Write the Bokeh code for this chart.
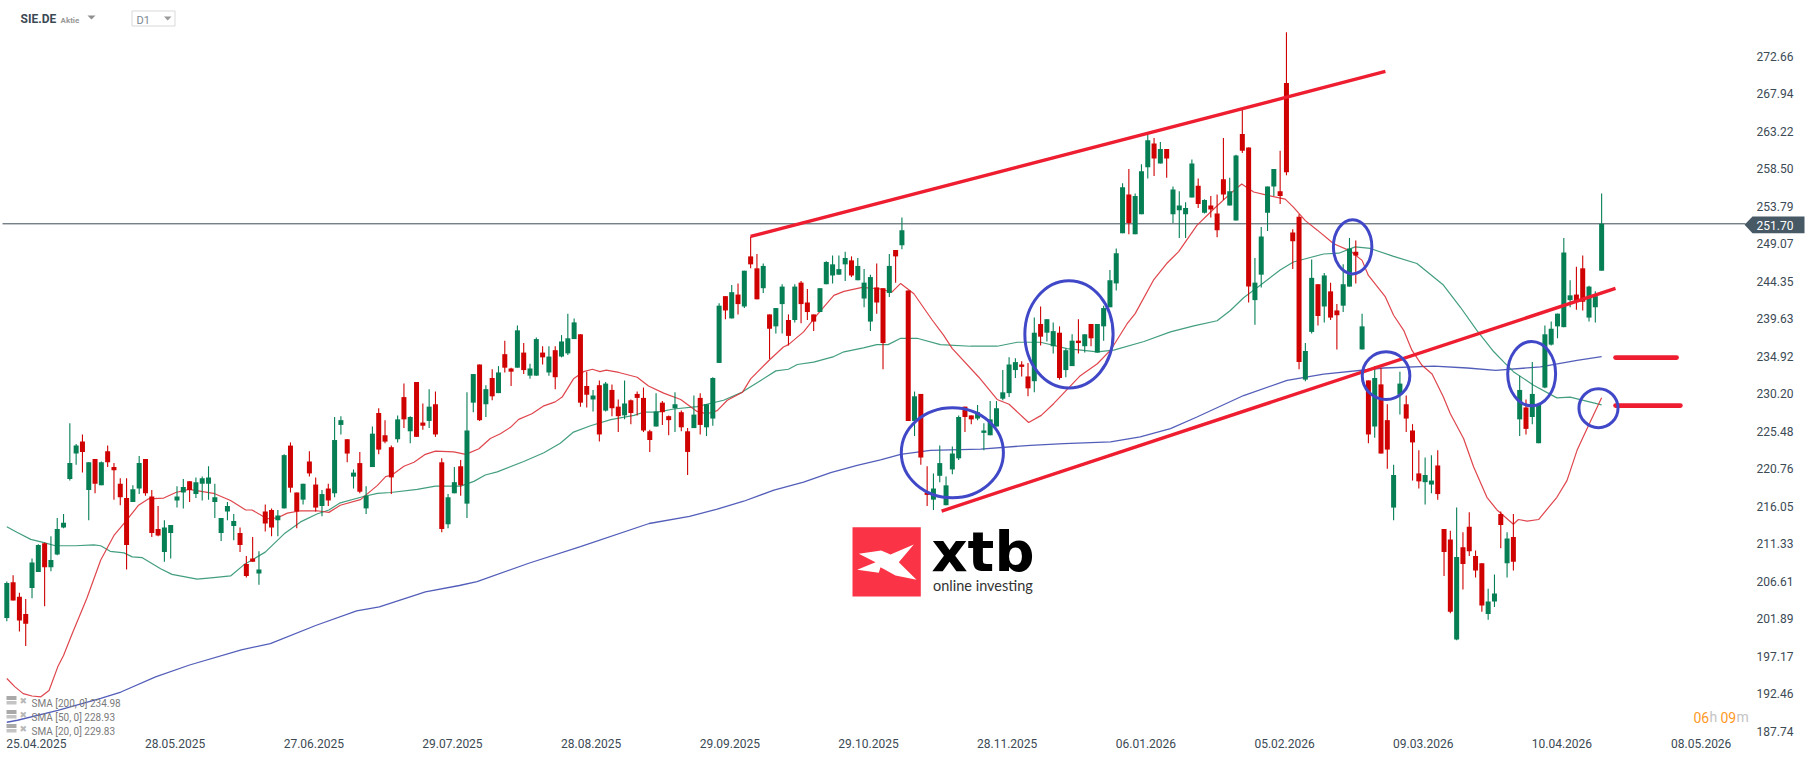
from bokeh.embed import file_html
from bokeh.resources import INLINE
from bokeh.plotting import figure
from bokeh.models import (Range1d, FixedTicker, Label, BoxAnnotation, PolyAnnotation,
                          ColumnDataSource)

opens = [202.1,206.6,204.8,202.6,205.9,207.9,211.5,208.5,210.1,213.5,
219.6,222.8,224.3,218.2,222.1,218.8,223.1,221.1,219.0,217.2,
216.7,218.4,222.1,217.4,213.3,210.4,212.8,216.9,217.9,219.3,
217.7,219.0,219.0,216.7,212.8,215.5,213.7,212.8,208.9,209.6,
207.7,215.5,215.7,214.4,215.9,223.8,217.9,217.0,221.8,218.9,
216.2,218.4,217.8,226.4,224.6,219.9,221.6,215.9,221.1,227.9,
225.1,223.6,224.6,229.9,225.6,231.8,226.7,226.9,229.0,221.7,
213.9,217.8,221.2,216.5,229.2,234.0,229.0,232.3,230.4,235.3,
233.5,233.6,235.5,232.6,232.6,235.5,233.0,235.8,235.0,235.4,
237.2,237.8,231.3,229.6,231.4,228.2,230.8,228.7,227.6,229.5,
230.3,229.8,225.6,226.2,229.2,227.5,228.5,228.0,225.6,226.0,
229.8,226.1,227.2,234.2,242.6,239.8,242.8,241.3,247.6,246.1,
243.6,240.3,238.8,241.6,239.6,239.6,244.3,241.8,240.3,240.6,
244.1,245.2,245.3,246.6,247.1,244.6,242.3,239.4,243.7,243.6,
243.0,248.4,249.0,243.3,226.9,230.3,217.9,217.0,220.0,216.3,
220.8,222.2,228.7,227.6,227.2,225.4,225.1,226.2,229.7,230.4,
233.3,234.0,232.5,231.9,239.1,238.0,236.3,238.0,233.3,233.8,
237.0,236.3,239.1,235.5,238.8,241.2,244.2,250.5,255.4,250.4,
252.9,258.8,261.8,259.3,261.1,252.9,253.4,252.9,255.0,256.5,
253.1,254.0,253.0,257.3,254.0,252.1,263.0,261.3,242.1,245.3,
253.1,256.4,255.8,269.4,250.6,252.6,232.1,238.1,244.1,241.3,
243.2,240.8,241.4,243.8,248.2,235.9,232.0,226.2,231.5,227.0,
216.0,230.2,229.0,225.7,220.3,219.2,218.9,221.3,213.3,212.0,
199.4,211.0,213.6,209.9,209.0,202.6,204.2,215.2,209.0,212.3,
227.1,228.6,227.4,224.1,231.1,236.5,238.8,238.7,242.1,242.8,
246.1,239.9,241.2,245.8]

closes = [206.5,204.3,201.8,201.4,209.1,211.3,208.5,209.4,213.3,214.1,
221.6,223.8,223.0,221.7,219.0,221.7,221.7,220.7,217.3,211.3,
218.3,221.6,217.8,212.8,212.5,213.5,213.8,217.4,218.6,218.2,
219.2,219.7,219.8,217.3,214.7,216.2,214.3,211.3,207.4,209.2,
208.2,214.0,213.5,215.0,222.6,218.5,215.5,219.0,220.3,216.0,
217.7,216.9,224.5,227.0,222.8,220.4,218.0,217.5,225.3,223.3,
224.3,219.8,227.1,227.1,227.4,224.9,226.3,228.7,225.2,213.3,
217.3,219.2,218.8,225.7,232.8,227.0,230.9,230.0,233.0,233.6,
233.1,238.3,233.3,233.5,237.2,234.9,235.0,232.4,236.9,237.3,
239.3,229.2,230.2,230.1,225.2,231.6,228.5,227.5,229.1,227.9,
229.8,225.7,224.5,228.1,228.0,227.0,229.0,226.1,223.0,227.7,
226.4,229.0,232.3,241.4,240.8,243.1,241.6,245.8,246.6,242.2,
246.4,238.5,241.1,243.8,237.6,243.8,241.6,240.6,239.4,243.6,
246.9,246.6,246.0,247.4,245.2,246.4,244.3,245.0,241.8,236.7,
246.4,247.6,250.9,226.9,230.0,222.3,217.6,218.4,221.6,218.8,
222.8,227.4,227.4,227.1,228.0,225.7,227.1,228.5,230.5,234.0,
234.3,233.7,231.0,238.0,237.5,239.7,238.2,232.3,235.8,237.0,
236.7,237.8,237.3,239.1,241.1,244.6,248.0,256.3,251.8,255.2,
258.3,262.2,259.9,261.1,259.9,256.0,254.0,253.7,259.3,254.2,
254.7,253.5,250.9,255.4,255.8,260.3,260.9,243.8,244.3,250.1,
256.4,258.6,255.2,258.2,249.5,234.3,235.7,244.9,240.1,245.2,
239.9,240.2,244.1,248.6,247.7,238.8,225.2,232.3,222.8,223.3,
220.1,231.6,227.2,224.2,219.3,220.1,219.4,217.7,210.4,202.9,
209.8,208.9,210.5,208.1,203.7,204.2,205.2,213.8,212.1,209.2,
230.8,225.9,230.3,229.0,237.8,238.5,240.4,248.1,242.7,241.9,
241.9,243.8,242.6,251.7]

highs = [206.7,207.5,205.3,204.5,209.6,211.4,211.6,212.4,214.7,215.2,
226.6,224.0,225.2,221.7,222.1,221.8,223.8,221.6,219.7,219.7,
218.8,222.5,222.1,218.2,216.2,214.4,213.8,218.7,219.6,219.3,
219.8,219.9,221.2,219.0,214.7,216.7,215.2,213.5,209.9,212.3,
210.5,216.4,215.9,215.7,222.7,224.2,217.9,219.0,223.1,219.8,
218.2,219.0,227.4,227.5,224.6,220.8,223.0,218.7,226.2,228.5,
227.0,223.8,227.6,231.6,227.5,231.8,229.1,230.9,230.6,222.2,
217.7,221.1,222.0,230.5,232.8,234.0,231.4,233.4,233.8,237.0,
233.6,238.9,236.7,234.1,237.4,236.3,236.3,236.3,237.7,240.4,
239.8,237.8,233.1,230.8,232.0,231.8,231.5,229.6,232.0,229.6,
230.6,231.1,225.8,230.4,229.4,227.6,230.5,228.2,226.0,230.1,
230.4,229.0,232.4,241.7,242.6,244.0,244.2,245.8,250.1,247.9,
246.7,240.3,241.1,244.1,240.3,244.1,244.5,243.5,240.3,243.6,
247.0,247.7,247.7,248.2,247.6,247.4,246.0,245.3,246.7,243.6,
247.9,248.4,252.5,243.3,230.6,230.3,221.2,220.3,223.8,219.9,
223.7,227.6,228.7,227.6,228.9,226.6,229.4,229.4,233.3,234.9,
234.8,234.4,234.2,239.9,241.3,239.7,239.3,238.8,236.0,237.8,
239.7,237.8,239.1,239.1,241.4,245.9,248.6,256.8,258.6,255.5,
259.2,262.9,262.5,262.0,261.1,256.4,255.8,254.4,259.8,257.4,
254.8,255.2,255.4,262.5,257.5,260.4,266.1,261.3,247.4,251.3,
256.4,258.6,260.9,275.8,251.0,252.9,236.7,247.2,244.1,245.5,
244.3,241.6,246.6,249.9,249.6,240.4,232.0,233.8,233.6,229.0,
221.4,233.1,230.1,226.5,223.2,222.3,222.6,223.2,213.3,213.1,
216.0,212.9,215.4,210.6,209.0,205.8,207.6,215.5,212.9,215.2,
232.6,229.6,234.3,229.0,238.9,239.4,240.4,249.9,244.6,246.3,
247.7,243.9,243.2,255.5]

lows = [201.7,204.3,200.4,198.6,204.6,207.9,203.6,208.0,210.0,213.4,
219.4,221.4,220.4,214.4,217.8,218.8,221.1,217.0,216.3,208.2,
216.7,217.7,217.5,212.3,212.4,209.2,209.6,216.0,215.9,216.7,
217.2,216.9,217.0,214.7,211.8,214.4,211.9,210.4,207.2,209.2,
206.3,213.0,212.4,212.4,215.9,217.9,213.4,216.4,219.9,215.5,
214.9,216.2,217.3,225.2,221.7,218.4,217.8,215.2,221.1,222.7,
224.1,217.7,224.2,226.0,224.1,224.9,225.8,226.0,224.9,212.9,
213.4,217.8,217.5,214.7,228.0,226.9,227.4,229.5,230.4,233.0,
231.3,233.6,232.8,232.2,232.6,234.0,232.6,230.9,234.9,235.2,
237.2,228.7,228.6,228.1,224.3,228.1,227.5,225.5,227.1,226.5,
227.6,225.5,223.0,226.2,226.4,225.1,225.5,225.6,220.1,226.0,
225.2,225.0,226.3,234.2,239.7,239.8,240.3,241.1,246.1,242.2,
243.0,234.7,237.9,237.9,236.4,239.3,239.2,239.6,238.2,240.6,
244.1,244.2,245.3,244.5,245.0,244.6,241.2,238.2,240.4,233.4,
242.5,244.3,248.5,226.9,225.0,221.4,216.2,215.7,219.2,216.3,
220.2,222.0,225.5,226.5,227.0,223.2,225.1,226.2,229.5,229.9,
232.3,232.5,230.0,230.5,236.4,236.9,235.4,232.1,232.4,233.8,
235.4,235.5,236.3,235.5,237.0,241.2,243.3,250.5,250.4,250.4,
252.9,257.4,257.7,259.3,257.5,251.8,249.9,249.9,255.0,253.7,
253.0,252.5,250.0,254.7,254.0,252.1,260.6,241.8,239.0,243.7,
250.8,255.2,254.2,257.8,246.0,233.4,231.9,237.9,238.9,239.3,
239.6,235.9,240.6,243.8,244.2,235.9,224.1,224.8,222.8,220.9,
214.4,227.7,225.5,219.4,218.4,216.4,217.8,217.0,207.4,202.7,
199.3,205.7,209.9,207.2,202.9,201.9,203.5,210.9,207.2,208.1,
225.0,225.2,226.5,224.1,231.0,236.4,237.3,238.7,241.2,240.9,
240.8,239.4,239.3,245.8]

sma20_x = [0,1.3,2.6,4,5.4,6.7,8.1,9,10.4,12.7,14.9,17,18.8,20.9,22.5,24.9,26.8,28.9,32.8,35.5,37.9,38.9,41.3,42.9,44.5,46.6,49.2,51.1,52.9,56.1,58.8,60.1,61.1,63,64.6,66.4,68,70.9,72.8,74.9,76.7,78.3,79.9,81.2,83.3,85.2,87,88.1,89.9,91.5,92.9,94.1,95.1,97.1,100,101.8,104.2,106.9,109.5,111.1,112.7,114.3,116.7,118,120.9,123.2,124,126.4,128.5,131.2,132.8,135.7,138.6,140.4,141.8,143.9,146.8,148.6,150,154.2,157.1,159,162.1,164.1,166.1,170.3,173,175.1,177.7,179,181.9,184,185.9,188.8,191.5,194.1,195.9,197.8,199.9,202.8,204.1,206,207.9,210.5,213.1,215,216,218.7,220,221.6,222.9,224.5,226.1,227.9,229,231.1,232.7,234.8,236.4,239,239.8,241.2,243,245.9,247.5,249.1,250.9,253]
sma20_y = [194.5,193.45,192.6,192.3,192.2,193.0,196.0,197.4,200.2,204.6,209.4,212.5,214.2,216.3,217.1,217.2,217.9,218.3,217.8,216.9,215.7,215.7,214.6,214.7,215.3,215.6,215.6,215.4,216.3,217.0,218.8,219.9,220.1,221.2,221.7,222.7,223.1,223.0,222.7,223.4,224.7,225.3,226.1,227.1,227.8,228.8,229.3,229.9,232.2,233.1,233.4,233.1,233.3,233.0,232.4,231.3,230.4,229.6,228.1,227.8,228.2,229.5,230.5,232.2,234.5,236.2,236.5,238.1,240.2,242.7,243.2,243.7,243.5,243.1,244.2,242.9,239.6,237.7,236.0,232.4,229.6,229.0,226.7,227.6,229.1,232.6,234.1,235.8,239.1,240.4,244.6,246.7,248.2,251.5,253.6,255.5,256.7,255.7,255.3,254.8,253.8,252.1,250.9,249.2,248.3,247.1,245.2,242.5,240.2,238.3,235.8,233.9,232.8,229.9,227.8,224.7,221.1,217.3,215.7,213.9,214.5,214.3,214.5,217.3,219.4,223.2,226.3,229.83]

sma50_x = [0,1.6,3.8,5.9,7.7,10.9,13.8,14.9,16.4,18.6,19.9,21.5,24.4,26.2,30.2,32.8,35.5,37.6,41,44,46.6,49.2,51.1,52.9,56.6,58.8,60.9,65.1,68,72,74.1,75.9,77.8,82,85.2,87.8,89.9,92.6,95.8,99.5,101,103.2,105.8,109.5,113.7,116.6,119.6,122,124,125.4,128,131.2,132.8,135.9,138,139.8,141.8,144.4,148.1,152.9,157.1,160.3,164,168.2,173,175.6,180.4,184.6,188.3,192,194.1,196.2,198.9,202,204.1,208.9,211.3,213.9,216.3,220,223.7,227.9,230.6,233.2,235.9,237.5,239,242.2,245.9,248,253]
sma50_y = [213.6,212.9,212.0,211.6,211.2,211.2,211.3,211.2,210.5,210.3,209.8,209.7,208.3,207.6,207.0,207.2,207.4,208.8,210.4,212.7,214.2,215.2,215.7,216.6,217.4,217.8,217.9,218.3,218.7,218.7,219.3,220.1,220.5,221.8,222.9,224.1,225.5,226.3,227.07,227.6,228.0,228.0,228.4,228.7,229.5,230.5,232.0,233.2,233.4,234.0,234.3,235.0,235.6,236.1,236.5,236.5,237.3,237.3,236.5,236.3,236.3,236.8,236.8,236.0,235.6,235.8,236.9,238.1,238.85,239.5,240.8,242.4,244.0,245.9,246.9,247.9,248.0,248.8,248.6,247.6,246.7,244.0,241.2,238.3,235.6,234.3,233.1,231.4,229.8,229.9,228.93]

sma200_x = [0,1.7,8.1,14.9,18.1,23.6,29,37.2,41.8,49.1,55.5,59.1,66.4,71.8,74.6,82.8,91,101.9,108.3,112.7,116.9,121.7,126.4,130.7,134.9,138.6,141.8,146.5,154.5,162.4,167.7,175.1,179.8,184.6,188.8,196.2,203.1,208.9,218.4,226.4,231.7,236.2,243.3,249.1,253]
sma200_y = [189.0,189.25,190.5,192.0,192.8,194.7,196.2,198.1,198.9,201.2,203.0,203.5,205.4,206.2,206.7,209.0,211.1,214.0,214.9,215.8,216.8,218.2,219.2,220.4,221.3,222.0,222.7,223.2,223.35,223.84,224.05,224.26,224.9,225.93,227.4,230.1,232.0,232.8,233.56,233.8,233.56,233.27,233.7,234.52,234.98]

price_ticks = [187.74,192.46,197.17,201.89,206.61,211.33,216.05,220.76,225.48,230.20,234.92,239.63,244.35,249.07,253.79,258.50,263.22,267.94,272.66]
date_labels = ["25.04.2025","28.05.2025","27.06.2025","29.07.2025","28.08.2025","29.09.2025","29.10.2025","28.11.2025","06.01.2026","05.02.2026","09.03.2026","10.04.2026","08.05.2026"]
date_pos = [4.7,26.7,48.7,70.7,92.7,114.7,136.7,158.7,180.7,202.7,224.7,246.7,268.8]
legend_texts = ["SMA [200, 0] 234.98","SMA [50, 0] 228.93","SMA [20, 0] 229.83"]
last_price = 251.70

channel_top_x, channel_top_y = [118.0,218.7],[250.12,270.87]
channel_low_x, channel_low_y = [148.3,255.2],[215.57,243.58]
level_a_x, level_a_y = [255.2,264.9],[234.87,234.87]
level_b_x, level_b_y = [255.2,265.5],[228.83,228.83]
ring_x = [150.0,168.5,213.5,218.8,241.9,252.5]
ring_y = [222.9,237.8,248.8,232.6,232.85,228.51]
ring_w = [16.2,14.0,6.1,7.55,7.6,6.2]
ring_h = [11.3,13.5,6.8,6.0,8.1,4.9]

GREEN, RED = "#067f55", "#cf0101"
TXT = "#3b4a54"
W, H, FR, FB = 1816, 761, 1806, 737
x0, x1 = -1.0, 285.5
y0, y1 = 187.08, 279.79
def X(px): return x0 + px*(x1-x0)/FR
def Y(py): return y1 - py*(y1-y0)/FB

p = figure(width=W, height=H, output_backend="svg", toolbar_location=None,
           x_range=Range1d(x0, x1), y_range=Range1d(y0, y1),
           y_axis_location="right", min_border_left=0, min_border_top=0,
           min_border_right=W-FR, min_border_bottom=H-FB)
p.outline_line_color = None
p.background_fill_color = "white"
p.grid.visible = False
for ax in (p.xaxis[0], p.yaxis[0]):
    ax.axis_line_color = None
    ax.major_tick_line_color = None
    ax.minor_tick_line_color = None
    ax.major_tick_out = 0
    ax.major_label_text_font = "Roboto"
    ax.major_label_text_font_size = "12px"
    ax.major_label_text_color = TXT
# the label centres sit about a pixel above the exact price level in the reference
tick_nudge = 0.13
shown_ticks = [round(t + tick_nudge, 2) for t in price_ticks]
p.yaxis[0].ticker = FixedTicker(ticks=shown_ticks)
p.yaxis[0].major_label_overrides = {s: f"{t:.2f}" for s, t in zip(shown_ticks, price_ticks)}
p.yaxis[0].major_label_standoff = 1756 - FR
p.xaxis[0].ticker = FixedTicker(ticks=date_pos)
p.xaxis[0].major_label_overrides = dict(zip(date_pos, date_labels))
p.xaxis[0].major_label_standoff = 1

p.line([X(2), X(1745)], [last_price, last_price], line_color="#3c4c56", line_width=1)

p.line(sma200_x, sma200_y, line_color="#4a55b5", line_width=1.3, line_alpha=0.95)
p.line(sma50_x, sma50_y, line_color="#2f9470", line_width=1.2, line_alpha=0.9)
p.line(sma20_x, sma20_y, line_color="#dc3138", line_width=1.2, line_alpha=0.9)

idx = list(range(len(opens)))
colors = [GREEN if c >= o else RED for o, c in zip(opens, closes)]
src = ColumnDataSource(dict(x=idx, o=opens, c=closes, h=highs, l=lows, col=colors))
p.segment("x", "h", "x", "l", source=src, line_color="col", line_width=1.1)
p.vbar("x", 5/6.304, "o", "c", source=src, fill_color="col", line_color=None)

p.line(channel_top_x, channel_top_y, line_color="#ee1d30", line_width=3.4)
p.line(channel_low_x, channel_low_y, line_color="#ee1d30", line_width=3.4)
p.line(level_a_x, level_a_y, line_color="#ee1d30", line_width=4.6, line_cap="round")
p.line(level_b_x, level_b_y, line_color="#ee1d30", line_width=4.6, line_cap="round")
p.ellipse(ring_x, ring_y, width=ring_w, height=ring_h, fill_color=None,
          line_color="#4048c8", line_width=3)

def lab(txt, px, py, size, color=TXT, font="Roboto", style="normal", align="left", **kw):
    p.add_layout(Label(x=X(px), y=Y(py), text=txt, text_font=font, text_font_size=f"{size}px",
                       text_color=color, text_font_style=style, text_align=align,
                       text_baseline="middle", level="overlay", **kw))

def box(l, r, t, b, fill, line=None):
    p.add_layout(BoxAnnotation(left=X(l), right=X(r), top=Y(t), bottom=Y(b),
                               fill_color=fill, fill_alpha=1, line_color=line, line_alpha=1,
                               line_width=1, level="annotation"))

def poly(pts, fill):
    p.add_layout(PolyAnnotation(xs=[X(a) for a, b in pts], ys=[Y(b) for a, b in pts],
                                fill_color=fill, fill_alpha=1, line_color=None, level="annotation"))

# last price tag
poly([(1744, 224.3), (1752, 216), (1804, 216), (1804, 232.7), (1752, 232.7)], "#465965")
lab(f"{last_price:.2f}", 1756, 224.6, 12, color="white")

# header
lab("SIE.DE", 20, 18.5, 12, style="bold", color="#3b4a54")
lab("Aktie", 60, 19.5, 8, color="#999999", style="bold")
poly([(87, 15), (95, 15), (91, 19)], "#8f8f8f")
box(131.5, 174.5, 10.5, 25.5, "white", "#d9d9d9")
lab("D1", 136, 19.5, 11, color="#7d8790")
poly([(163.5, 16), (171, 16), (167.2, 20)], "#9a9a9a")

# legend of indicators
for t, py in zip(legend_texts, [701.5, 715.5, 729.5]):
    box(6, 16, py-6, py-2, "#a9a9a9")
    box(6, 16, py-1, py+2.5, "#c4c4c4")
    lab("\u2716", 19, py-1, 9, color="#b8b8b8", font="DejaVu Sans")
    lab(t, 31, py+1, 10, color="#7a7a7a")

# countdown
lab("06", 1693, 716.5, 14, color="#ff9a1f")
lab("h", 1709, 716.5, 14, color="#c4c4c4")
lab("09", 1720, 716.5, 14, color="#ff9a1f")
lab("m", 1736, 716.5, 14, color="#c4c4c4")

# logo
box(852, 920.3, 526.7, 596, "#fb3346")
poly([(858.3,553.3),(880.7,550),(890,554),(913.3,544),(898.3,561.7),(916,579.3),(895,575),(880,566.7),(878.3,572.3),(856.7,569.3),(875,561.7)], "white")
lab("xtb", 931, 550.5, 56, color="#000000", font="DejaVu Sans", style="bold")
lab("online investing", 932.5, 585, 14.5, color="#333333", font="Lato")

open("out.html", "w").write(file_html(p, INLINE))
